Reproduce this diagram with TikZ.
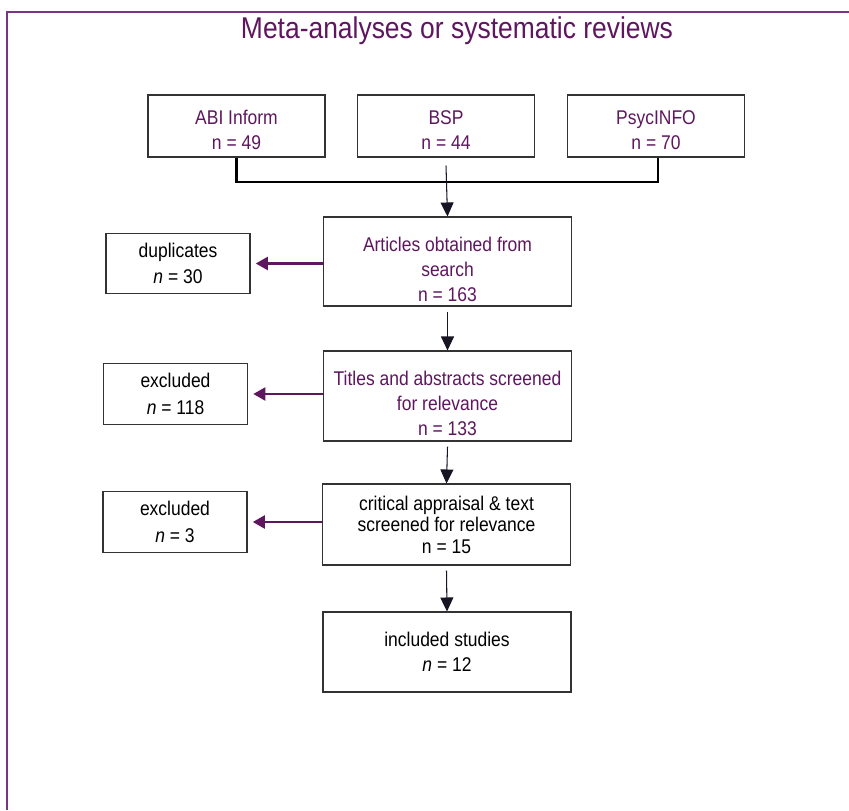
\documentclass[tikz,border=0pt]{standalone}
\usepackage{fontspec}
\setmainfont{Liberation Sans}[FakeStretch=0.88]
\usetikzlibrary{arrows.meta}
\definecolor{plum}{RGB}{94,22,94}
\definecolor{framepurple}{RGB}{122,52,132}
\definecolor{inkblack}{RGB}{25,20,35}
\newcommand{\lift}[1]{\rule{0pt}{#1}}
\tikzset{
	box/.style={draw=black!80, line width=0.6pt, align=center, inner sep=2pt,
		font=\fontsize{11.3}{14.2}\selectfont},
	dbbox/.style={box, text=plum, minimum width=3.54cm, minimum height=1.24cm},
	stagebox/.style={box, minimum width=4.96cm},
	sidebox/.style={box, minimum width=2.88cm, minimum height=1.21cm,
		font=\fontsize{11.3}{15}\selectfont},
	downarrow/.style={draw=inkblack, line width=0.6pt, -{Triangle[length=0.28cm, width=0.26cm]}},
	outarrow/.style={draw=plum, line width=1.2pt, -{Triangle[length=0.24cm, width=0.26cm]}, shorten >=3pt},
	bracket/.style={draw=black, line width=1.3pt},
	heading/.style={text=plum, font=\fontsize{17.1}{19}\selectfont}
}
\begin{document}
\begin{tikzpicture}
	\useasboundingbox (0,0) rectangle (16.98,-16.2);
	% Frame and heading:
	\draw[framepurple, line width=1.1pt] (0.14,-16.2) -- (0.14,-0.24) -- (16.98,-0.24);
	\node[heading] (ttl) at (9.14,-0.62) {Meta-analyses or systematic reviews};

	% Databases:
	\node[dbbox] (abi) at (4.73,-2.52) {\lift{12.5pt}ABI Inform\\n = 49};
	\node[dbbox] (bsp) at (8.92,-2.52) {\lift{12.5pt}BSP\\n = 44};
	\node[dbbox] (psyc) at (13.12,-2.52) {\lift{12.5pt}PsycINFO\\n = 70};

	% Screening stages:
	\node[stagebox, text=plum, minimum height=1.78cm] (art) at (8.95,-5.23)
		{\lift{17pt}Articles obtained from\\search\\n = 163};
	\node[stagebox, text=plum, minimum height=1.8cm] (tit) at (8.95,-7.92)
		{\lift{17pt}Titles and abstracts screened\\for relevance\\n = 133};
	\node[stagebox, minimum height=1.62cm, font=\fontsize{11.3}{12.2}\selectfont] (crit) at (8.93,-10.49)
		{critical appraisal \& text\\screened for relevance\\n = 15};
	\node[stagebox, minimum height=1.6cm] (inc) at (8.94,-13.04)
		{included studies\\\textit{n} = 12};

	% Removed records:
	\node[sidebox] (dup) at (3.56,-5.27) {duplicates\\\textit{n} = 30};
	\node[sidebox] (exa) at (3.51,-7.88) {excluded\\\textit{n} = 118};
	\node[sidebox] (exb) at (3.50,-10.44) {excluded\\\textit{n} = 3};

	% Connectors:
	\coordinate (join) at (8.92,-3.64);
	\draw[bracket] (abi.south) -- (abi.south |- join) -- ([xshift=0.04cm]psyc.south |- join) -- ([xshift=0.04cm]psyc.south);
	\draw[downarrow] ([yshift=-0.16cm]bsp.south) -- (art.north);
	\draw[downarrow] ([yshift=-0.1cm]art.south) -- (tit.north);
	\draw[downarrow] ([yshift=-0.1cm]tit.south) -- (crit.north);
	\draw[downarrow] ([yshift=-0.1cm]crit.south) -- (inc.north);
	\draw[outarrow] (art.west |- dup.east) -- (dup.east);
	\draw[outarrow] (tit.west |- exa.east) -- (exa.east);
	\draw[outarrow] (crit.west |- exb.east) -- (exb.east);
\end{tikzpicture}
\end{document}
